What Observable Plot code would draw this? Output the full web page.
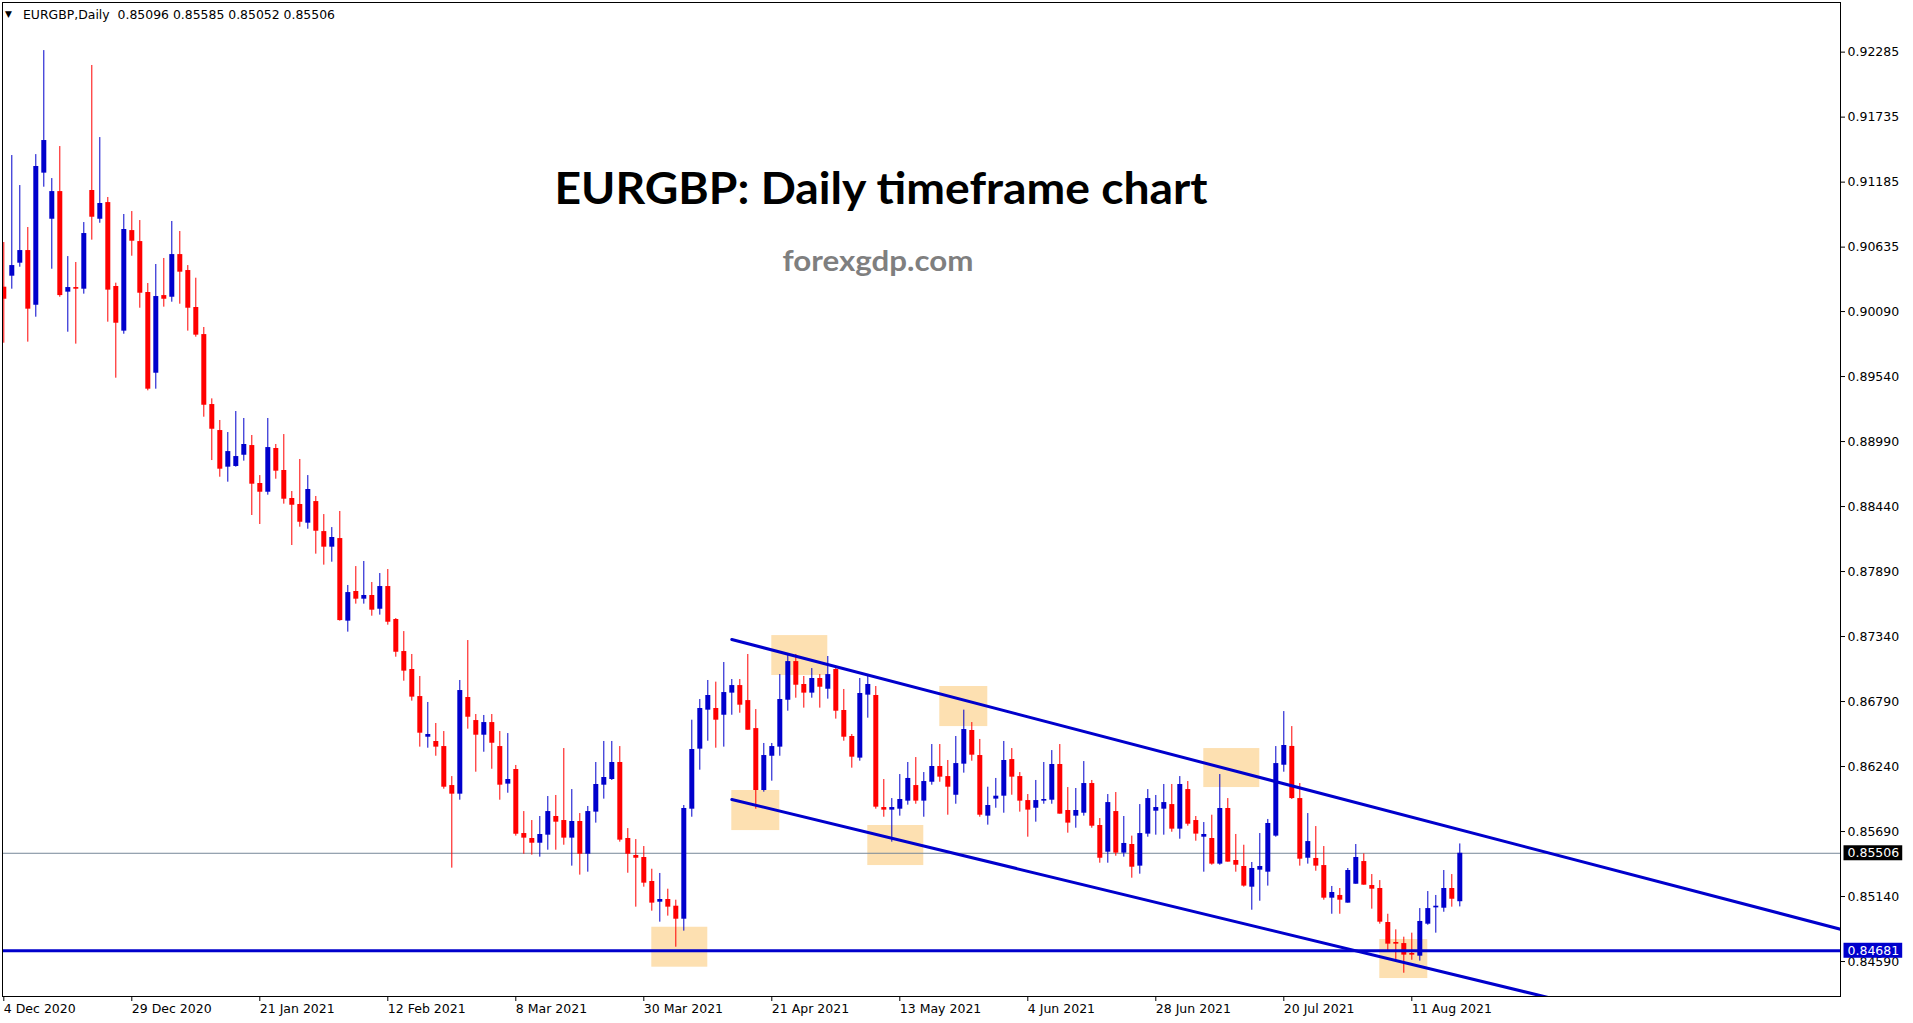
<!DOCTYPE html>
<html><head><meta charset="utf-8">
<script src="https://cdn.jsdelivr.net/npm/d3@7"></script>
<script src="https://cdn.jsdelivr.net/npm/@observablehq/plot@0.6"></script>
<style>
html,body{margin:0;padding:0;background:#fff;}
#wrap{position:relative;width:1913px;height:1023px;overflow:hidden;}
</style></head><body><div id="wrap"></div>
<script>
// ---- Data (EURGBP daily) ----
const openP = [0.90296,0.90389,0.90499,0.90606,0.90144,0.91261,0.90871,0.91105,0.90254,0.90293,
0.90279,0.91114,0.90871,0.91012,0.90302,0.89924,0.90775,0.90682,0.90251,0.89568,
0.90225,0.90211,0.90572,0.90437,0.90124,0.89895,0.89303,0.89083,0.88773,0.88779,
0.88874,0.88956,0.88635,0.88561,0.88931,0.88745,0.88508,0.88457,0.88299,0.88482,
0.88228,0.88096,0.88169,0.87470,0.87721,0.87656,0.87687,0.87571,0.87763,0.87484,
0.87213,0.87061,0.86832,0.86488,0.86452,0.86409,0.86079,0.86006,0.86824,0.86629,
0.86505,0.86612,0.86409,0.86091,0.86215,0.85673,0.85631,0.85591,0.85659,0.85817,
0.85783,0.85634,0.85775,0.85498,0.85854,0.86082,0.86130,0.86274,0.85631,0.85487,
0.85470,0.85267,0.85092,0.85115,0.85058,0.84948,0.85879,0.86387,0.86717,0.86731,
0.86674,0.86861,0.86925,0.86798,0.86561,0.86037,0.86327,0.86404,0.86801,0.87128,
0.86934,0.86861,0.86985,0.86894,0.87061,0.86714,0.86494,0.86311,0.86844,0.86841,
0.85893,0.85871,0.85879,0.85947,0.86079,0.85947,0.86107,0.86240,0.86155,0.85997,
0.86260,0.86545,0.86333,0.85820,0.85964,0.85989,0.86299,0.86155,0.85952,0.85887,
0.85947,0.85955,0.86257,0.85868,0.85820,0.85845,0.86096,0.85741,0.85515,0.85859,
0.85507,0.85580,0.85397,0.85668,0.85862,0.85879,0.85918,0.85710,0.86045,0.85783,
0.85642,0.85631,0.85414,0.85885,0.85445,0.85394,0.85219,0.85363,0.85346,0.85651,
0.86251,0.86410,0.85969,0.85464,0.85462,0.85402,0.85126,0.85149,0.85084,0.85244,
0.85436,0.85233,0.85208,0.84920,0.84751,0.84742,0.84658,0.84635,0.84906,0.85044,
0.85041,0.85208,0.85096];
const highP = [0.90674,0.91410,0.91156,0.90801,0.91418,0.92298,0.91215,0.91486,0.90555,0.90505,
0.90843,0.92172,0.91562,0.91055,0.90330,0.90911,0.90936,0.90860,0.90327,0.90488,
0.90539,0.90852,0.90767,0.90479,0.90372,0.89955,0.89351,0.89168,0.89066,0.89244,
0.89185,0.89041,0.88702,0.89185,0.88965,0.89049,0.88567,0.88838,0.88702,0.88525,
0.88372,0.88262,0.88398,0.87772,0.87932,0.87975,0.87797,0.87873,0.87907,0.87492,
0.87382,0.87188,0.87002,0.86782,0.86604,0.86536,0.86155,0.86968,0.87306,0.86680,
0.86672,0.86680,0.86536,0.86519,0.86249,0.85859,0.85783,0.85817,0.85986,0.85995,
0.86392,0.86045,0.85842,0.85902,0.86274,0.86452,0.86452,0.86409,0.85715,0.85622,
0.85563,0.85371,0.85335,0.85202,0.85109,0.85910,0.86632,0.86807,0.86968,0.86954,
0.87120,0.86976,0.86976,0.87188,0.86722,0.86435,0.86435,0.87018,0.87179,0.87188,
0.87002,0.87069,0.87018,0.87171,0.87086,0.86892,0.86511,0.86985,0.87010,0.86917,
0.86130,0.85969,0.86172,0.86274,0.86316,0.86189,0.86426,0.86426,0.86291,0.86494,
0.86717,0.86612,0.86469,0.86065,0.86139,0.86452,0.86392,0.86189,0.86003,0.86122,
0.86274,0.86375,0.86426,0.86062,0.86054,0.86282,0.86122,0.85800,0.86003,0.86020,
0.85817,0.85651,0.85918,0.86045,0.85995,0.86088,0.86088,0.86155,0.86113,0.85817,
0.85766,0.85828,0.86172,0.85969,0.85665,0.85574,0.85428,0.85673,0.85792,0.86409,
0.86705,0.86578,0.86096,0.85842,0.85732,0.85563,0.85225,0.85208,0.85377,0.85580,
0.85501,0.85326,0.85275,0.84990,0.84858,0.84796,0.84830,0.85038,0.85182,0.85149,
0.85360,0.85326,0.85585];
const lowP = [0.89822,0.90279,0.90465,0.89831,0.90042,0.91142,0.90448,0.90211,0.89915,0.89814,
0.90237,0.90694,0.90837,0.90000,0.89526,0.89898,0.90558,0.90118,0.89419,0.89433,
0.90127,0.90169,0.90152,0.89924,0.89873,0.89196,0.88829,0.88688,0.88646,0.88773,
0.88824,0.88364,0.88288,0.88536,0.88671,0.88460,0.88110,0.88265,0.88248,0.88037,
0.87944,0.87969,0.87470,0.87377,0.87614,0.87614,0.87512,0.87521,0.87436,0.87165,
0.86962,0.86793,0.86404,0.86395,0.86327,0.86048,0.85380,0.85955,0.86556,0.86192,
0.86361,0.86217,0.85955,0.86014,0.85651,0.85498,0.85490,0.85473,0.85532,0.85532,
0.85574,0.85397,0.85321,0.85346,0.85761,0.85964,0.86122,0.85600,0.85337,0.85050,
0.85219,0.85016,0.84923,0.84974,0.84711,0.84847,0.85811,0.86209,0.86454,0.86395,
0.86404,0.86674,0.86691,0.86547,0.85879,0.86023,0.86116,0.86327,0.86708,0.86818,
0.86734,0.86818,0.86734,0.86810,0.86641,0.86454,0.86226,0.86285,0.86649,0.85879,
0.85811,0.85600,0.85820,0.85913,0.85921,0.85811,0.86082,0.86107,0.85828,0.85921,
0.86184,0.86285,0.85811,0.85744,0.85887,0.85845,0.85997,0.85854,0.85642,0.85769,
0.85921,0.85921,0.85837,0.85676,0.85718,0.85820,0.85718,0.85422,0.85422,0.85481,
0.85473,0.85295,0.85329,0.85642,0.85659,0.85659,0.85684,0.85625,0.85735,0.85608,
0.85346,0.85405,0.85405,0.85431,0.85346,0.85219,0.85024,0.85100,0.85228,0.85642,
0.86192,0.85961,0.85397,0.85414,0.85354,0.85109,0.84990,0.84990,0.85084,0.85244,
0.85236,0.85033,0.84906,0.84680,0.84584,0.84491,0.84601,0.84593,0.84897,0.84830,
0.85007,0.85050,0.85052];
const closeP = [0.90194,0.90479,0.90606,0.90110,0.91317,0.91537,0.91105,0.90225,0.90293,0.90279,
0.90750,0.90888,0.91004,0.90271,0.89991,0.90784,0.90685,0.90245,0.89433,0.90217,
0.90194,0.90572,0.90423,0.90118,0.89890,0.89297,0.89094,0.88756,0.88905,0.88863,
0.88965,0.88629,0.88561,0.88939,0.88739,0.88502,0.88451,0.88307,0.88584,0.88231,
0.88096,0.88178,0.87475,0.87712,0.87656,0.87687,0.87563,0.87763,0.87461,0.87207,
0.87047,0.86827,0.86522,0.86511,0.86404,0.86065,0.86006,0.86883,0.86657,0.86505,
0.86612,0.86437,0.86082,0.86130,0.85667,0.85634,0.85591,0.85665,0.85859,0.85769,
0.85634,0.85775,0.85498,0.85859,0.86088,0.86147,0.86274,0.85617,0.85498,0.85464,
0.85253,0.85084,0.85115,0.85050,0.84948,0.85885,0.86384,0.86731,0.86841,0.86632,
0.86866,0.86925,0.86759,0.86547,0.86037,0.86333,0.86409,0.86807,0.87128,0.86928,
0.86861,0.86985,0.86911,0.87018,0.86708,0.86488,0.86319,0.86858,0.86934,0.85896,
0.85871,0.85893,0.85961,0.86139,0.85947,0.86113,0.86240,0.86150,0.86065,0.86265,
0.86553,0.86336,0.85828,0.85910,0.85989,0.86291,0.86150,0.85947,0.85871,0.85952,
0.85961,0.86257,0.85837,0.85761,0.85868,0.86096,0.85735,0.85464,0.85935,0.85507,
0.85589,0.85388,0.85673,0.85969,0.85893,0.85935,0.85710,0.86088,0.85752,0.85668,
0.85665,0.85414,0.85885,0.85431,0.85405,0.85228,0.85377,0.85394,0.85758,0.86265,
0.86418,0.85969,0.85456,0.85605,0.85397,0.85126,0.85174,0.85109,0.85360,0.85470,
0.85236,0.85202,0.84923,0.84737,0.84737,0.84644,0.84644,0.84929,0.85038,0.85058,
0.85208,0.85117,0.85506];

// date labels every 16 bars
const dateTickBars = [0,16,32,48,64,80,96,112,128,144,160,176];
const dateTickLabels = ["4 Dec 2020","29 Dec 2020","21 Jan 2021","12 Feb 2021","8 Mar 2021","30 Mar 2021",
  "21 Apr 2021","13 May 2021","4 Jun 2021","28 Jun 2021","20 Jul 2021","11 Aug 2021"];
const priceTicks = [0.92285,0.91735,0.91185,0.90635,0.90090,0.89540,0.88990,0.88440,0.87890,0.87340,
  0.86790,0.86240,0.85690,0.85140,0.84590];

// highlighted zones (bar range, price range)
const zoneStart = [81,91,96,108,117,150,172];
const zoneEnd   = [88,97,103,115,123,157,178];
const zoneTop   = [0.84880,0.86037,0.87348,0.85741,0.86917,0.86392,0.84776];
const zoneBottom= [0.84542,0.85698,0.87010,0.85402,0.86578,0.86062,0.84446];

// channel lines (bar, price)
const upperBars = [91, 230];
const upperPrices = [0.87315, 0.84856];
const lowerBars = [91, 230];
const lowerPrices = [0.85961, 0.83679];

const bidPrice = 0.85506;
const supportPrice = 0.84681;
const headerText = "EURGBP,Daily  0.85096 0.85585 0.85052 0.85506";
const titleText = "EURGBP: Daily timeframe chart";
const subtitleText = "forexgdp.com";

// ---- Build tables ----
const bars = openP.map((o, i) => ({i, open: o, high: highP[i], low: lowP[i], close: closeP[i]}));
const zones = zoneStart.map((s, k) => ({x1: s, x2: zoneEnd[k], y1: zoneTop[k], y2: zoneBottom[k]}));
const upper = upperBars.map((b, k) => ({i: b, p: upperPrices[k]}));
const lower = lowerBars.map((b, k) => ({i: b, p: lowerPrices[k]}));

const BLUE = "#0000CC", RED = "#FF0000";
const col = d => d.close >= d.open ? BLUE : RED;

const W = 1913, H = 1023;
const mL = 2, mT = 2, mR = 73, mB = 27;
const barPx = 8, firstCenter = 3.3;
const xDomain = [(mL - firstCenter) / barPx, (W - mR - firstCenter) / barPx];

const svg = Plot.plot({
  width: W, height: H,
  marginLeft: mL, marginTop: mT, marginRight: mR, marginBottom: mB,
  style: {fontFamily: "DejaVu Sans", fontSize: "12.5px", color: "black", background: "white", overflow: "visible"},
  x: {type: "linear", domain: xDomain},
  y: {type: "linear", domain: [0.84294, 0.92705]},
  marks: [
    Plot.rect(zones, {x1: "x1", x2: "x2", y1: "y1", y2: "y2", fill: "#FDE0B1", clip: true}),
    Plot.ruleY([bidPrice], {stroke: "#778899", strokeWidth: 1, clip: true}),
    Plot.ruleX(bars, {x: "i", y1: "low", y2: "high", stroke: col, strokeWidth: 1, clip: true}),
    Plot.ruleX(bars, {x: "i", y1: "open", y2: "close", stroke: col, strokeWidth: 5, clip: true}),
    Plot.line(upper, {x: "i", y: "p", stroke: BLUE, strokeWidth: 3, clip: true}),
    Plot.line(lower, {x: "i", y: "p", stroke: BLUE, strokeWidth: 3, clip: true}),
    Plot.ruleY([supportPrice], {stroke: BLUE, strokeWidth: 3, clip: true}),
    Plot.frame({stroke: "black"}),
    Plot.axisY({anchor: "right", ticks: priceTicks, tickFormat: d => d.toFixed(5), tickSize: 4, tickPadding: 3, label: null, fill: "black"}),
    Plot.axisX({anchor: "bottom", ticks: dateTickBars, tickFormat: d => dateTickLabels[dateTickBars.indexOf(d)], tickSize: 5, tickPadding: 3, textAnchor: "start", label: null, fill: "black"}),
    Plot.text([bidPrice], {y: d => d, frameAnchor: "right", text: d => d.toFixed(5), dx: 7, textAnchor: "start", fill: "white", className: "bidlab"}),
    Plot.text([supportPrice], {y: d => d, frameAnchor: "right", text: d => d.toFixed(5), dx: 7, textAnchor: "start", fill: "white", className: "suplab"})
  ]
});

document.getElementById("wrap").appendChild(svg);
const s = d3.select(svg);

function boxUnder(cls, fill) {
  s.selectAll("." + cls + " text").each(function() {
    const b = this.getBBox();
    const r = d3.select(this.parentNode).insert("rect", "text")
      .attr("x", b.x - 4).attr("y", b.y + b.height / 2 - 7.5)
      .attr("width", b.width + 7).attr("height", 15).attr("fill", fill);
    const t = this.getAttribute("transform");
    if (t) r.attr("transform", t);
  });
}
boxUnder("bidlab", "#000000");
boxUnder("suplab", "#0000CD");

// header, title, subtitle as SVG text
const g = s.append("g");
g.append("text").attr("x", 5).attr("y", 17).attr("text-anchor", "start").attr("font-size", 9).attr("fill", "black").text("▼");
g.append("text").attr("x", 23).attr("y", 19).attr("text-anchor", "start").attr("font-size", 12.5).attr("fill", "black")
  .attr("xml:space", "preserve").style("white-space", "pre")
  .attr("textLength", 312).attr("lengthAdjust", "spacingAndGlyphs").text(headerText);
g.append("text").attr("x", 881).attr("y", 204).attr("text-anchor", "middle")
  .attr("font-family", "Lato").attr("font-weight", 700).attr("font-size", 44).attr("fill", "#000")
  .attr("textLength", 653).attr("lengthAdjust", "spacingAndGlyphs").text(titleText);
g.append("text").attr("x", 878).attr("y", 271).attr("text-anchor", "middle")
  .attr("font-family", "Lato").attr("font-weight", 700).attr("font-size", 29).attr("fill", "#7F7F7F")
  .attr("textLength", 191).attr("lengthAdjust", "spacingAndGlyphs").text(subtitleText);
</script>
</body></html>
